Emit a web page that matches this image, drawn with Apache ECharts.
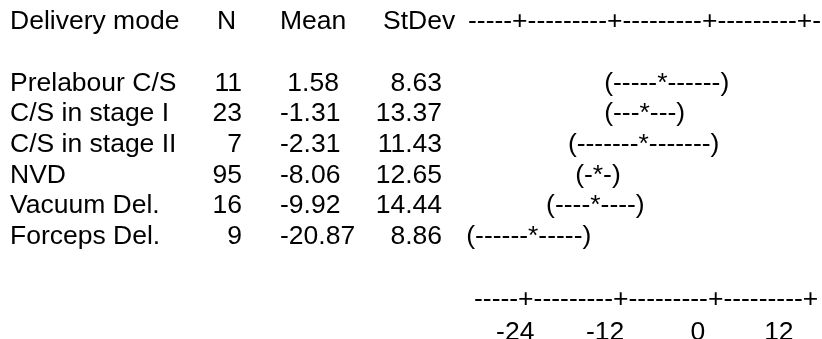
<!DOCTYPE html>
<html><head><meta charset="utf-8">
<script src="https://cdn.jsdelivr.net/npm/echarts@6/dist/echarts.min.js"></script>
<style>html,body{margin:0;padding:0;background:#fff}#main{width:822px;height:339px}</style>
</head><body><div id="main"></div>
<script>
// ---- data ----
const deliveryModes = ['Prelabour C/S', 'C/S in stage I', 'C/S in stage II', 'NVD', 'Vacuum Del.', 'Forceps Del.'];
const nValues = [11, 23, 7, 95, 16, 9];
const meanValues = [1.58, -1.31, -2.31, -8.06, -9.92, -20.87];
const stdevValues = [8.63, 13.37, 11.43, 12.65, 14.44, 8.86];
const axisTicks = [-24, -12, 0, 12];
const columnHeaders = ['Delivery mode', 'N', 'Mean', 'StDev'];

// ---- style / layout ----
const FONT_SIZE = 26.5;
const FONT_FAMILY = '"Liberation Sans", Arial, Helvetica, sans-serif';
const FONT = FONT_SIZE + 'px ' + FONT_FAMILY;
const INK = '#000000';
const T_CRIT = 1.975; // t(0.975, df = N - k)
const CHARS_PER_TICK = 10, LEAD = 5;

// measure space width in the font (proportional rendering of text output)
const ctx = document.createElement('canvas').getContext('2d');
ctx.font = FONT;
const spaceW = ctx.measureText(' ').width;

// pooled standard deviation and 95% CI (individual, pooled StDev)
let ss = 0, dfTot = 0;
nValues.forEach((n, i) => { ss += (n - 1) * stdevValues[i] * stdevValues[i]; dfTot += n - 1; });
const pooledSd = Math.sqrt(ss / dfTot);

const charStep = (axisTicks[1] - axisTicks[0]) / CHARS_PER_TICK;
const scaleStart = axisTicks[0] - LEAD * charStep;
const toIdx = v => Math.round((v - scaleStart) / charStep);

const intervals = meanValues.map((m, i) => {
  const h = T_CRIT * pooledSd / Math.sqrt(nValues[i]);
  const lo = toIdx(m - h), mid = toIdx(m), hi = toIdx(m + h);
  const str = '(' + '-'.repeat(Math.max(0, mid - lo - 1)) + '*' + '-'.repeat(Math.max(0, hi - mid - 1)) + ')';
  return { lo, str };
});

function scaleLine(trailing) {
  const last = LEAD + CHARS_PER_TICK * (axisTicks.length - 1);
  let s = '';
  for (let i = 0; i <= last + trailing; i++) {
    s += (i >= LEAD && i <= last && (i - LEAD) % CHARS_PER_TICK === 0) ? '+' : '-';
  }
  return s;
}
function labelLine() {
  let s = '';
  axisTicks.forEach((t, k) => {
    const end = LEAD + CHARS_PER_TICK * k;
    const lab = String(t);
    const start = end - lab.length + 1;
    while (s.length < start) s += ' ';
    s += lab;
  });
  return s;
}

// layout constants (pixels)
const DY = 1.5;
const X_NAME = 10, X_N_RIGHT = 242, X_MEAN = 280, X_SD_RIGHT = 442;
const HDR_X = [10, 217, 280, 383];
const Y_HEADER = 20.5 + DY, X_HEADER_SCALE = 468;
const X_BOTTOM = 474, Y_BOTTOM_LINE = 298 + DY, Y_BOTTOM_LABELS = 331.5 + DY;
const GRID_LEFT = 459, GRID_CHARS = 50;

function txt(text, x, y, align) {
  return { type: 'text', x: x, y: y, silent: true,
    style: { text: text, font: FONT, fill: INK, align: align || 'left', verticalAlign: 'middle',
             textAlign: align || 'left', textVerticalAlign: 'middle' } };
}

const chart = echarts.init(document.getElementById('main'), null, { renderer: 'canvas' });
chart.setOption({
  backgroundColor: '#ffffff',
  animation: false,
  grid: { left: GRID_LEFT, top: 66.7 + DY, width: GRID_CHARS * spaceW, height: 183.6, containLabel: false },
  xAxis: { type: 'value', min: scaleStart, max: scaleStart + GRID_CHARS * charStep, show: false },
  yAxis: { type: 'category', data: deliveryModes, inverse: true, show: false },
  graphic: [
    txt(columnHeaders[0], HDR_X[0], Y_HEADER),
    txt(columnHeaders[1], HDR_X[1], Y_HEADER),
    txt(columnHeaders[2], HDR_X[2], Y_HEADER),
    txt(columnHeaders[3], HDR_X[3], Y_HEADER),
    txt(scaleLine(4), X_HEADER_SCALE, Y_HEADER),
    txt(scaleLine(0), X_BOTTOM, Y_BOTTOM_LINE),
    txt(labelLine(), X_BOTTOM, Y_BOTTOM_LABELS)
  ],
  series: [{
    type: 'custom',
    clip: false,
    data: deliveryModes.map((m, i) => [scaleStart + intervals[i].lo * charStep, i]),
    renderItem: function (params, api) {
      const i = api.value(1);
      const p = api.coord([api.value(0), i]);
      const y = p[1];
      const m = meanValues[i];
      return { type: 'group', children: [
        txt(deliveryModes[i], X_NAME, y),
        txt(String(nValues[i]), X_N_RIGHT, y, 'right'),
        txt((m >= 0 ? ' ' : '') + m.toFixed(2), X_MEAN, y),
        txt(stdevValues[i].toFixed(2), X_SD_RIGHT, y, 'right'),
        txt(intervals[i].str, p[0], y)
      ] };
    }
  }]
});
</script></body></html>
